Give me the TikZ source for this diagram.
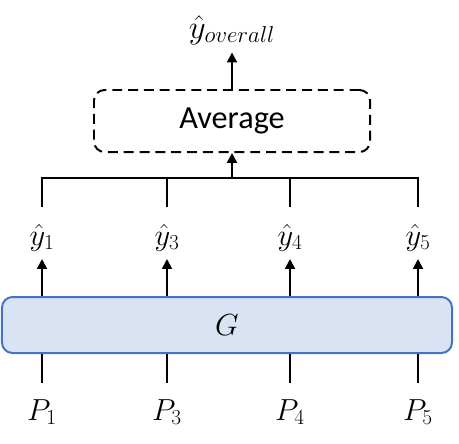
\documentclass[tikz,border=0pt]{standalone}
\usepackage{fix-cm}
\usepackage{fontspec}
\setmainfont{Carlito}
\usetikzlibrary{arrows.meta,positioning}
\definecolor{gfill}{HTML}{DAE3F3}
\definecolor{gdraw}{HTML}{4472C4}

\begin{document}
\begin{tikzpicture}[
  x=0.03cm, y=-0.03cm,
  lbl/.style={anchor=base, inner sep=1pt, font=\fontsize{26}{30}\selectfont},
  avgbox/.style={draw, dash pattern=on 8.5pt off 5pt, rounded corners=9pt, line width=1.7pt, minimum width=8.28cm, minimum height=1.86cm, font=\fontsize{27.5}{32}\selectfont},
  gbox/.style={draw=gdraw, fill=gfill, rounded corners=9pt, line width=1.7pt, minimum width=13.5cm, minimum height=1.68cm, font=\fontsize{26}{30}\selectfont},
  wire/.style={line width=1.7pt},
  arr/.style={-{Triangle[length=8.5pt,width=8.5pt]}, line width=1.7pt, shorten >=0.2cm}
]
  \useasboundingbox (0,0) rectangle (459,443);
  \node[avgbox] (avg) at (232,121) {Average};
  \node[lbl] (yall) at (232,38) {\fontsize{28}{32}\selectfont$\hat{y}_{overall}$};
  \node[gbox] (G) at (227,325) {$G$};
  \node[lbl] (y1) at (42,245) {$\hat{y}_1$};
  \node[lbl] (y3) at (167,245) {$\hat{y}_3$};
  \node[lbl] (y4) at (290,245) {$\hat{y}_4$};
  \node[lbl] (y5) at (418,245) {$\hat{y}_5$};
  \node[lbl] (p1) at (42,420) {$P_1$};
  \node[lbl] (p3) at (167,420) {$P_3$};
  \node[lbl] (p4) at (290,420) {$P_4$};
  \node[lbl] (p5) at (418,420) {$P_5$};
  \coordinate (bus) at (232,178);
  % inputs into G
  \draw[wire] ([yshift=0.45cm]p1.north) -- (p1.north |- G.south);
  \draw[wire] ([yshift=0.45cm]p3.north) -- (p3.north |- G.south);
  \draw[wire] ([yshift=0.45cm]p4.north) -- (p4.north |- G.south);
  \draw[wire] ([yshift=0.45cm]p5.north) -- (p5.north |- G.south);
  % outputs of G
  \draw[arr] (G.north -| y1) -- (y1);
  \draw[arr] (G.north -| y3) -- (y3);
  \draw[arr] (G.north -| y4) -- (y4);
  \draw[arr] (G.north -| y5) -- (y5);
  % collecting bus
  \draw[wire] ([yshift=0.45cm]y1.north) |- (bus) -| ([yshift=0.45cm]y5.north);
  \draw[wire] ([yshift=0.45cm]y3.north) -- (y3.north |- bus);
  \draw[wire] ([yshift=0.45cm]y4.north) -- (y4.north |- bus);
  \draw[arr, line width=2.4pt, shorten >=0pt] (bus) -- (avg.south);
  \draw[arr] (avg.north) -- (avg.north |- yall.south);
\end{tikzpicture}
\end{document}
